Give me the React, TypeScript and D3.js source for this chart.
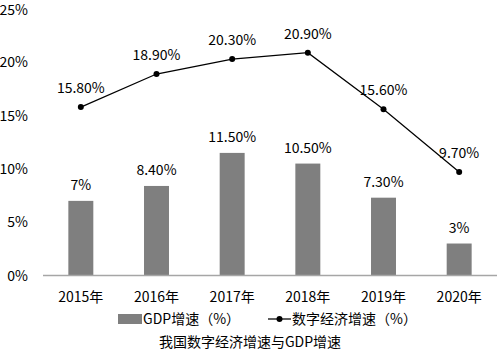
import React from 'react';
import * as d3 from 'd3';

const years = ['2015年', '2016年', '2017年', '2018年', '2019年', '2020年'];
const gdpGrowth = [7, 8.4, 11.5, 10.5, 7.3, 3];
const gdpLabels = ['7%', '8.40%', '11.50%', '10.50%', '7.30%', '3%'];
const digitalGrowth = [15.8, 18.9, 20.3, 20.9, 15.6, 9.7];
const digitalLabels = ['15.80%', '18.90%', '20.30%', '20.90%', '15.60%', '9.70%'];
const yTicks = [0, 5, 10, 15, 20, 25];

const W = 499;
const H = 354;
const FONT = '"Noto Sans CJK SC", "Noto Sans", sans-serif';

export default function App() {
  const x = d3.scaleBand<string>().domain(years).range([43, 497])
    .paddingInner(0.67).paddingOuter(0.335);
  const y = d3.scaleLinear().domain([0, 25]).range([275.5, 9]);
  const cx = (d: string) => (x(d) || 0) + x.bandwidth() / 2;

  const line = d3.line<number>()
    .x((_, i) => cx(years[i]))
    .y(d => y(d));

  return (
    <svg width={W} height={H} style={{ position: 'absolute', left: 0, top: 0 }} fontFamily={FONT}>
      <rect width={W} height={H} fill="#fff" />
      {/* y axis labels */}
      {yTicks.map(t => (
        <text key={t} x={28} y={Math.max(15, y(t) + 5)} textAnchor="end" fontSize={14} fill="#000">{t}%</text>
      ))}
      {/* bars */}
      {gdpGrowth.map((v, i) => (
        <rect key={years[i]} x={x(years[i])} y={y(v)} width={x.bandwidth()} height={y(0) - y(v)} fill="#7f7f7f" />
      ))}
      {gdpGrowth.map((v, i) => (
        <text key={'b' + i} x={cx(years[i])} y={y(v) - 11} textAnchor="middle" fontSize={14} fill="#000">{gdpLabels[i]}</text>
      ))}
      {/* x axis */}
      <line x1={43} x2={497} y1={y(0)} y2={y(0)} stroke="#a6a6a6" strokeWidth={1.5} />
      {years.map(d => (
        <text key={d} x={cx(d)} y={302} textAnchor="middle" fontSize={14} fill="#000">{d}</text>
      ))}
      {/* line series */}
      <path d={line(digitalGrowth) || ''} fill="none" stroke="#000" strokeWidth={1.25} />
      {digitalGrowth.map((v, i) => (
        <circle key={'c' + i} cx={cx(years[i])} cy={y(v)} r={3} fill="#000" />
      ))}
      {digitalGrowth.map((v, i) => (
        <text key={'l' + i} x={cx(years[i])} y={y(v) - 14} textAnchor="middle" fontSize={14} fill="#000">{digitalLabels[i]}</text>
      ))}
      {/* legend */}
      <rect x={118} y={314} width={24} height={10} fill="#7f7f7f" />
      <text x={143} y={324} fontSize={14} fill="#000">GDP增速（%）</text>
      <line x1={268} x2={291} y1={319} y2={319} stroke="#000" strokeWidth={1.25} />
      <circle cx={279.5} cy={319} r={3} fill="#000" />
      <text x={292} y={324} fontSize={14} fill="#000">数字经济增速（%）</text>
      {/* caption */}
      <text x={250} y={347} textAnchor="middle" fontSize={14} fill="#000">我国数字经济增速与GDP增速</text>
    </svg>
  );
}
